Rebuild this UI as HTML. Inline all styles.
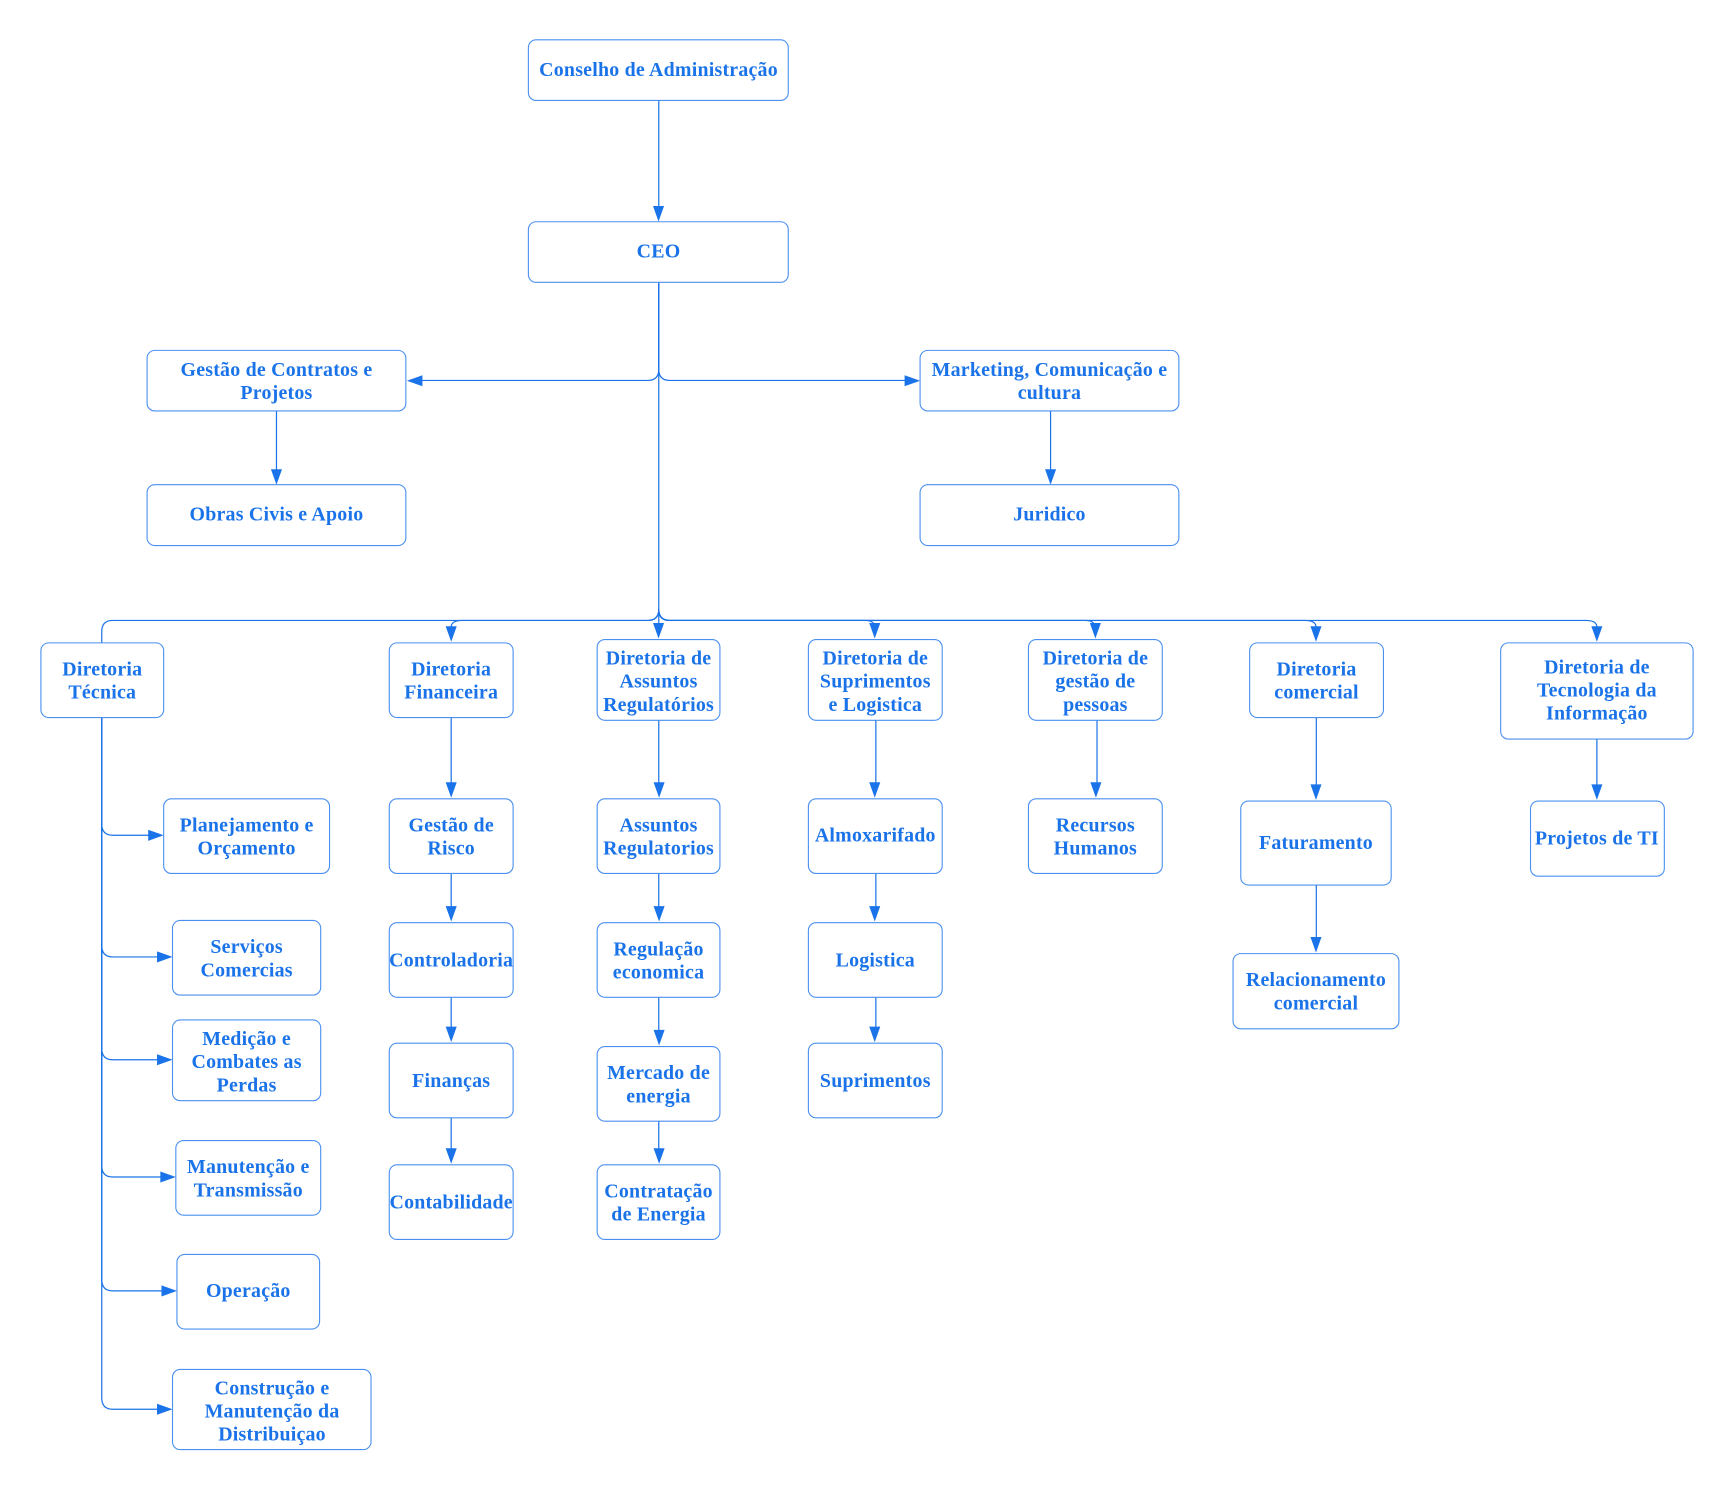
<!DOCTYPE html>
<html><head><meta charset="utf-8"><style>
html,body{margin:0;padding:0;background:#fff;width:1734px;height:1489px;overflow:hidden}
svg{display:block}
rect{fill:#fff;stroke:#4a90f0;stroke-width:1}
path.c{fill:none;stroke:#1a73e8;stroke-width:1.1}
polygon{fill:#1a73e8}
text{font-family:"Liberation Serif",serif;font-weight:bold;font-size:18px;letter-spacing:.2px;fill:#1a73e8;text-anchor:middle}
</style></head><body>
<svg width="1734" height="1489" viewBox="0 0 1568 1346.4" xmlns="http://www.w3.org/2000/svg">
<!-- connectors -->
<path class="c" d="M595.7 91V187"/>
<path class="c" d="M595.7 255V334Q595.7 344 585.7 344H380"/>
<path class="c" d="M595.7 255V334Q595.7 344 605.7 344H820"/>
<path class="c" d="M250 371V425"/>
<path class="c" d="M950 371V425"/>
<path class="c" d="M595.7 255V566"/>
<path class="c" d="M595.7 551Q595.700 561 585.7 561H102Q92 561 92 571V581"/>
<path class="c" d="M595.7 551Q595.700 561 585.7 561H418Q408 561 408 567"/>
<path class="c" d="M595.7 551Q595.700 561 605.7 561H782Q791 561 791 567"/>
<path class="c" d="M595.7 551Q595.700 561 605.7 561H981Q990 561 990 567"/>
<path class="c" d="M595.7 551Q595.700 561 605.7 561H1180Q1190 561 1190 567"/>
<path class="c" d="M595.7 551Q595.700 561 605.7 561H1434Q1444 561 1444 567"/>
<path class="c" d="M92 648V745Q92 755.300 102 755.300H136"/>
<path class="c" d="M92 648V855Q92 865.300 102 865.300H144"/>
<path class="c" d="M92 648V948Q92 958.300 102 958.300H144"/>
<path class="c" d="M92 648V1054Q92 1064.300 102 1064.300H146"/>
<path class="c" d="M92 648V1157Q92 1167.300 102 1167.300H148"/>
<path class="c" d="M92 648V1264Q92 1274.300 102 1274.300H144"/>
<path class="c" d="M408 648V708M408 789V820M408 901V930M408 1010V1040"/>
<path class="c" d="M595.7 651V708M595.7 789V820M595.7 901V933M595.7 1013V1040"/>
<path class="c" d="M792 651V708M792 789V820M792 901V930"/>
<path class="c" d="M992 651V708"/>
<path class="c" d="M1190.300 648V711M1190.300 800V849"/>
<path class="c" d="M1444 668V711"/>
<!-- arrowheads -->
<g transform="translate(0 .3)">
<polygon points="590.5,186 600.500,186 595.5,200"/>
<polygon points="368,344 382,339 382,349"/>
<polygon points="832,344 818,339 818,349"/>
<polygon points="245,424 255,424 250,438"/>
<polygon points="945,424 955,424 950,438"/>
<polygon points="403,566 413,566 408,580"/>
<polygon points="590.5,563 600.500,563 595.5,577"/>
<polygon points="786,563 796,563 791,577"/>
<polygon points="985.500,563 995.500,563 990.500,577"/>
<polygon points="1185,566 1195,566 1190,580"/>
<polygon points="1439,566 1449,566 1444,580"/>
<polygon points="148,755 134,750 134,760"/>
<polygon points="156,865 142,860 142,870"/>
<polygon points="156,958 142,953 142,963"/>
<polygon points="159,1064 145,1059 145,1069"/>
<polygon points="160,1167 146,1162 146,1172"/>
<polygon points="156,1274 142,1269 142,1279"/>
<polygon points="403,707 413,707 408,721"/>
<polygon points="403,819 413,819 408,833"/>
<polygon points="403,928 413,928 408,942"/>
<polygon points="403,1038 413,1038 408,1052"/>
<polygon points="591,707 601,707 596,721"/>
<polygon points="591,819 601,819 596,833"/>
<polygon points="591,931 601,931 596,945"/>
<polygon points="591,1038 601,1038 596,1052"/>
<polygon points="786,707 796,707 791,721"/>
<polygon points="786,819 796,819 791,833"/>
<polygon points="786,928 796,928 791,942"/>
<polygon points="986,707 996,707 991,721"/>
<polygon points="1185,709 1195,709 1190,723"/>
<polygon points="1185,847 1195,847 1190,861"/>
<polygon points="1439,709 1449,709 1444,723"/>
</g>
<!-- boxes -->
<rect x="477.800" y="36" width="235" height="54.800" rx="7"/>
<rect x="477.800" y="200.500" width="235" height="54.800" rx="7"/>
<g transform="translate(0 .3)">
<rect x="133" y="316.500" width="234" height="54.800" rx="7"/>
<rect x="832" y="316.500" width="234" height="54.800" rx="7"/>
<rect x="133" y="438" width="234" height="55" rx="7"/>
<rect x="832" y="438" width="234" height="55" rx="7"/>
<rect x="37" y="581" width="111" height="67.500" rx="7"/>
<rect x="352" y="581" width="112" height="67.500" rx="7"/>
<rect x="540" y="578" width="111" height="73" rx="7"/>
<rect x="731" y="578" width="121" height="73" rx="7"/>
<rect x="930" y="578" width="121" height="73" rx="7"/>
<rect x="1130" y="581" width="121" height="67.500" rx="7"/>
<rect x="1357" y="581" width="174" height="87" rx="7"/>
<rect x="148" y="722" width="150" height="67.500" rx="7"/>
<rect x="156" y="832" width="134" height="67.500" rx="7"/>
<rect x="156" y="922" width="134" height="73" rx="7"/>
<rect x="159" y="1031" width="131" height="67.500" rx="7"/>
<rect x="160" y="1134" width="129" height="67.500" rx="7"/>
<rect x="156" y="1238" width="179.500" height="72.500" rx="7"/>
<rect x="352" y="722" width="112" height="67.500" rx="7"/>
<rect x="352" y="834" width="112" height="67.500" rx="7"/>
<rect x="352" y="943" width="112" height="67.500" rx="7"/>
<rect x="352" y="1053" width="112" height="67.500" rx="7"/>
<rect x="540" y="722" width="111" height="67.500" rx="7"/>
<rect x="540" y="834" width="111" height="67.500" rx="7"/>
<rect x="540" y="946" width="111" height="67.500" rx="7"/>
<rect x="540" y="1053" width="111" height="67.500" rx="7"/>
<rect x="731" y="722" width="121" height="67.500" rx="7"/>
<rect x="731" y="834" width="121" height="67.500" rx="7"/>
<rect x="731" y="943" width="121" height="67.500" rx="7"/>
<rect x="930" y="722" width="121" height="67.500" rx="7"/>
<rect x="1122" y="724" width="136" height="76" rx="7"/>
<rect x="1115" y="862" width="150" height="68" rx="7"/>
<rect x="1384" y="724" width="121" height="68" rx="7"/>
</g>
<!-- labels -->
<g transform="translate(0 .8)">
<text x="595.500" y="68">Conselho de Administração</text>
<text x="595.500" y="232">CEO</text>
<text x="250" y="339">Gestão de Contratos e</text>
<text x="250" y="360">Projetos</text>
<text x="949" y="339">Marketing, Comunicação e</text>
<text x="949" y="360">cultura</text>
<text x="250" y="470">Obras Civis e Apoio</text>
<text x="949" y="470">Juridico</text>
<text x="92.500" y="610">Diretoria</text>
<text x="92.500" y="631">Técnica</text>
<text x="408" y="610">Diretoria</text>
<text x="408" y="631">Financeira</text>
<text x="595.500" y="600">Diretoria de</text>
<text x="595.500" y="621">Assuntos</text>
<text x="595.500" y="642">Regulatórios</text>
<text x="791.500" y="600">Diretoria de</text>
<text x="791.500" y="621">Suprimentos</text>
<text x="791.500" y="642">e Logistica</text>
<text x="990.500" y="600">Diretoria de</text>
<text x="990.500" y="621">gestão de</text>
<text x="990.500" y="642">pessoas</text>
<text x="1190.500" y="610">Diretoria</text>
<text x="1190.500" y="631">comercial</text>
<text x="1444" y="608">Diretoria de</text>
<text x="1444" y="629">Tecnologia da</text>
<text x="1444" y="650">Informação</text>
<text x="223" y="751">Planejamento e</text>
<text x="223" y="772">Orçamento</text>
<text x="223" y="861">Serviços</text>
<text x="223" y="882">Comercias</text>
<text x="223" y="944">Medição e</text>
<text x="223" y="965">Combates as</text>
<text x="223" y="986">Perdas</text>
<text x="224.500" y="1060">Manutenção e</text>
<text x="224.500" y="1081">Transmissão</text>
<text x="224.500" y="1172">Operação</text>
<text x="246" y="1260">Construção e</text>
<text x="246" y="1281">Manutenção da</text>
<text x="246" y="1302">Distribuiçao</text>
<text x="408" y="751">Gestão de</text>
<text x="408" y="772">Risco</text>
<text x="408" y="873">Controladoria</text>
<text x="408" y="982">Finanças</text>
<text x="408" y="1092">Contabilidade</text>
<text x="595.500" y="751">Assuntos</text>
<text x="595.500" y="772">Regulatorios</text>
<text x="595.500" y="863">Regulação</text>
<text x="595.500" y="884">economica</text>
<text x="595.500" y="975">Mercado de</text>
<text x="595.500" y="996">energia</text>
<text x="595.500" y="1082">Contratação</text>
<text x="595.500" y="1103">de Energia</text>
<text x="791.500" y="760">Almoxarifado</text>
<text x="791.500" y="873">Logistica</text>
<text x="791.500" y="982">Suprimentos</text>
<text x="990.500" y="751">Recursos</text>
<text x="990.500" y="772">Humanos</text>
<text x="1190" y="767">Faturamento</text>
<text x="1190" y="891">Relacionamento</text>
<text x="1190" y="912">comercial</text>
<text x="1444" y="763">Projetos de TI</text>
</g>
</svg>
</body></html>
